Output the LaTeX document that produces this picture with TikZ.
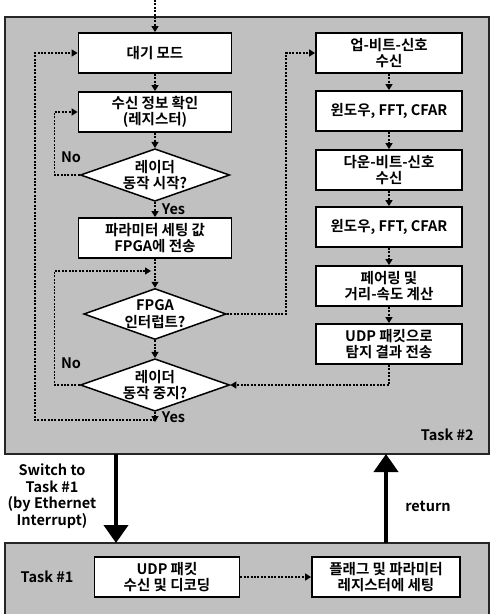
\documentclass[tikz,border=0pt]{standalone}
\usepackage{fontspec}
\setmainfont{Noto Sans CJK KR}[BoldFont={Noto Sans CJK KR Bold}]
\usetikzlibrary{arrows.meta,shapes.geometric,positioning}
\definecolor{areagray}{RGB}{192,192,192}
\tikzset{%
    taskarea/.style={%
        draw=black!85, line width=1.6pt, fill=areagray
    },
    stepbox/.style={%
        rectangle, draw=black, line width=1.8pt, fill=white, minimum height=40pt, align=center, inner sep=2pt
    },
    leftbox/.style={%
        stepbox, minimum width=153pt
    },
    rightbox/.style={%
        stepbox, minimum width=146pt
    },
    decision/.style={%
        diamond, draw=black, line width=1.5pt, fill=white, minimum width=142pt, minimum height=51pt, aspect=2.84, inner sep=0pt, align=center
    },
    flowline/.style={%
        line width=1.3pt, dash pattern=on 2pt off 1.4pt
    },
    flow/.style={%
        flowline, -{Triangle[width=7pt,length=6pt]}
    },
    bigarrow/.style={%
        line width=4pt, -{Triangle[width=24pt,length=18pt]}
    },
    txt/.style={%
        align=center, inner sep=1pt
    },
}

\begin{document}
\begin{tikzpicture}[x=1pt, y=-1pt, font=\bfseries\fontsize{14.5}{16.5}\selectfont]

    \useasboundingbox (0,0) rectangle (493,614);

    % Task #2 area
    \draw[taskarea] (5,17) rectangle (489,454);
    \node[txt, anchor=east] (task2lbl) at (475,435) {Task \#2};

    \begin{scope}
      \coordinate (entry) at (155,0);
      \node[leftbox] (wait) at (155,53) {대기 모드};
      \node[leftbox] (check) at (155,112) {수신 정보 확인\\(레지스터)};
      \node[decision] (startq) at (155,175) {레이더\\동작 시작?};
      \node[leftbox] (param) at (155,238) {파라미터 세팅 값\\FPGA에 전송};
      \node[decision] (fpgaq) at (155,314) {FPGA\\인터럽트?};
      \node[decision] (stopq) at (155,385) {레이더\\동작 중지?};
      \coordinate (yesend) at (155,422);
      \coordinate (loopcorner) at (35,420);
      \coordinate (nojoin) at (151,271);

      \draw[flow] (entry) -- (wait.north);
      \draw[flow] (wait) -- (check);
      \draw[flow] (check) -- (startq);
      \draw[flow] (startq) -- (param) node[midway,right,xshift=3pt] {Yes};
      \draw[flow] (param) -- (fpgaq);
      \draw[flow] (fpgaq) -- (stopq);
      \draw[flow] (stopq) -- (yesend) node[midway,right,xshift=3pt] {Yes};
      \draw[flow] (startq.west) -- ++(-25,0) |- (check.west);
      \node[txt] (no1) at (71,157) {No};
      \draw[flow] (stopq.west) -- ++(-25,0) |- (nojoin);
      \node[txt] (no2) at (71,363) {No};
      \draw[flow] (yesend |- loopcorner) -- (loopcorner) |- (wait.west);
    \end{scope}

    \begin{scope}
      \node[rightbox] (upbeat) at (389,53) {업-비트-신호\\수신};
      \node[rightbox] (win1) at (389,111) {윈도우, FFT, CFAR};
      \node[rightbox] (downbeat) at (389,170) {다운-비트-신호\\수신};
      \node[rightbox] (win2) at (389,227) {윈도우, FFT, CFAR};
      \node[rightbox] (pair) at (389,286) {페어링 및\\거리-속도 계산};
      \node[rightbox] (udptx) at (389,344) {UDP 패킷으로\\탐지 결과 전송};
      \coordinate (jump) at (286,314);

      \draw[flow] (upbeat) -- (win1);
      \draw[flow] (win1) -- (downbeat);
      \draw[flow] (downbeat) -- (win2);
      \draw[flow] (win2) -- (pair);
      \draw[flow] (pair) -- (udptx);
      \draw[flow] (fpgaq.east) -- (jump) |- (upbeat.west);
      \draw[flow] (udptx.south) |- (stopq.east);
    \end{scope}

    % Task #1 area
    \draw[taskarea] (5,543) rectangle (489,618);
    \begin{scope}
      \node[txt] (task1lbl) at (47,577) {Task \#1};
      \node[stepbox, minimum width=145pt] (udprx) at (167,577) {UDP 패킷\\수신 및 디코딩};
      \node[stepbox, minimum width=148pt] (flagset) at (386,577) {플래그 및 파라미터\\레지스터에 세팅};
      \draw[flow] (udprx) -- (flagset);
    \end{scope}

    % task switching
    \coordinate (swtop) at (116,454);
    \coordinate (swbot) at (116,543);
    \coordinate (rettop) at (386,454);
    \coordinate (retbot) at (386,543);
    \draw[bigarrow] (swtop) -- (swbot);
    \draw[bigarrow] (retbot) -- (rettop);
    \node[txt] (switchlbl) at (52,496) {Switch to\\Task \#1\\(by Ethernet\\Interrupt)};
    \node[txt] (retlbl) at (428,506) {return};

  \end{tikzpicture}
\end{document}
